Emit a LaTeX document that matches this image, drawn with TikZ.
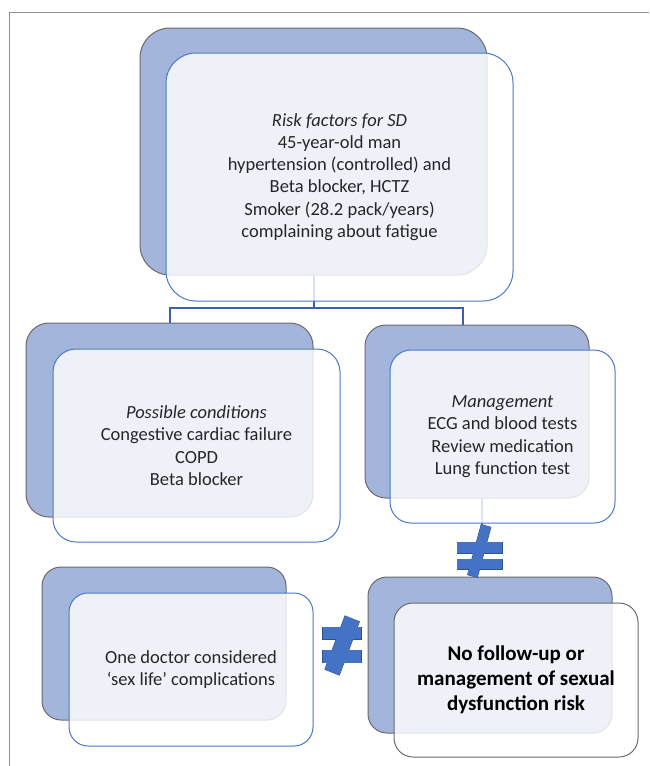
\documentclass[tikz,border=0pt]{standalone}
\usepackage{fontspec}
\setmainfont{Carlito}
\usetikzlibrary{calc}
\definecolor{backfill}{HTML}{A4B5DB}
\definecolor{backline}{HTML}{6A6A6A}
\definecolor{frontblue}{HTML}{4A78C8}
\definecolor{frontgray}{HTML}{6A6A6A}
\definecolor{connblue}{HTML}{3A60A8}
\definecolor{neqfill}{HTML}{4472C4}
\definecolor{neqline}{HTML}{2F528F}
\definecolor{framegray}{HTML}{8E8E8E}
\definecolor{txt}{HTML}{262626}
\tikzset{
  backbox/.style={draw=backline, fill=backfill, line width=1pt, inner sep=0pt, outer sep=0pt, rectangle},
  frontbox/.style={draw=frontblue, line width=1pt, fill=white, fill opacity=0.82, text opacity=1,
    inner sep=0pt, outer sep=0pt, rectangle, align=center, text=txt, font=\fontsize{18.5}{22.3}\selectfont},
  boldbox/.style={frontbox, draw=frontgray, text=black, font=\fontsize{21}{25}\selectfont\bfseries},
  conn/.style={draw=connblue, line width=2pt},
  connb/.style={draw=neqfill, line width=2pt},
  neqedge/.style={draw=neqline, line width=1pt},
  neqbody/.style={fill=neqfill},
}
\begin{document}
\begin{tikzpicture}[x=1pt,y=-1pt]
\useasboundingbox (0,0) rectangle (649,766);
% back boxes
\node[backbox, rounded corners=30pt, minimum width=347pt, minimum height=247pt] (b1) at (313.5,151.5) {};
\node[backbox, rounded corners=23pt, minimum width=287pt, minimum height=194pt] (b2) at (169.5,420) {};
\node[backbox, rounded corners=21pt, minimum width=224pt, minimum height=173pt] (b3) at (477,411.5) {};
\node[backbox, rounded corners=19pt, minimum width=244pt, minimum height=153pt] (b4) at (164,643.5) {};
\node[backbox, rounded corners=19pt, minimum width=244pt, minimum height=156pt] (b5) at (490,655) {};
% connectors
\coordinate (j) at ($(b1.south)+(0,33)$);
\coordinate (n1) at (482,526);
\draw[conn] (b1.south) -- (j) -| (b2.north);
\draw[conn] (j) -| ([xshift=-14pt]b3.north);
\draw[connb] ([xshift=5pt]b3.south) -- (n1);
% front boxes
\node[frontbox, rounded corners=30pt, minimum width=347pt, minimum height=248pt] (f1) at (339.5,177)
  {\textit{Risk factors for SD}\\45-year-old man\\hypertension (controlled) and\\Beta blocker, HCTZ\\Smoker (28.2 pack/years)\\complaining about fatigue};
\node[frontbox, rounded corners=23pt, minimum width=287pt, minimum height=193pt] (f2) at (196.5,445.5)
  {\textit{Possible conditions}\\Congestive cardiac failure\\COPD\\Beta blocker};
\node[frontbox, rounded corners=21pt, minimum width=225pt, minimum height=173pt] (f3) at (502.5,436.5)
  {\textit{Management}\\ECG and blood tests\\Review medication\\Lung function test};
\node[frontbox, rounded corners=19pt, minimum width=244pt, minimum height=153pt] (f4) at (191,669.5)
  {One doctor considered\\‘sex life’ complications};
\node[boldbox, rounded corners=19pt, minimum width=244pt, minimum height=154pt] (f5) at (516,680)
  {No follow-up or\\management of sexual\\dysfunction risk};
% not-equal signs: outlines first, then fills on top
\draw[neqedge] (457,542) rectangle (502,553);
\draw[neqedge] (457,559) rectangle (502,569);
\draw[neqedge] (481.2,524.7) -- (490.8,527.3) -- (477.3,577.3) -- (467.7,574.7) -- cycle;
\fill[neqbody] (457,542) rectangle (502,553);
\fill[neqbody] (457,559) rectangle (502,569);
\fill[neqbody] (481.2,524.7) -- (490.8,527.3) -- (477.3,577.3) -- (467.7,574.7) -- cycle;
\draw[neqedge] (322.7,627.3) rectangle (361,639.3);
\draw[neqedge] (322.7,650) rectangle (361,662.7);
\draw[neqedge] (345,616) -- (359.3,621.7) -- (339.3,675) -- (325,669.3) -- cycle;
\fill[neqbody] (322.7,627.3) rectangle (361,639.3);
\fill[neqbody] (322.7,650) rectangle (361,662.7);
\fill[neqbody] (345,616) -- (359.3,621.7) -- (339.3,675) -- (325,669.3) -- cycle;
% frame
\draw[framegray, line width=1.5pt] (9.5,766) -- (9.5,12.5) -- (649,12.5);
\end{tikzpicture}
\end{document}
